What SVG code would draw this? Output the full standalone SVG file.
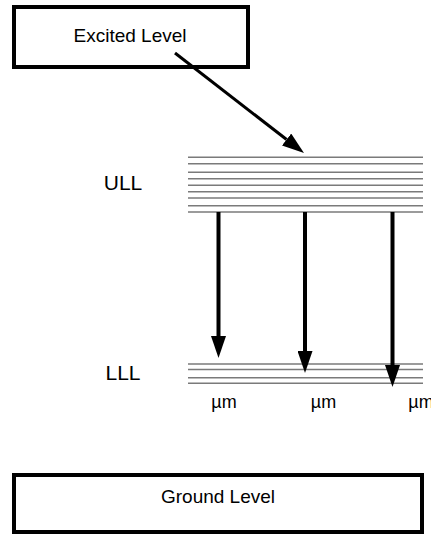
<svg xmlns="http://www.w3.org/2000/svg" width="431" height="535" viewBox="0 0 431 535">
  <style>
    .box { fill: #ffffff; stroke: #000000; stroke-width: 4; }
    .label { font-family: "Liberation Sans", Arial, sans-serif; fill: #000000; }
    .level { stroke: #7a7a7a; stroke-width: 1.6; }
    .arrow { stroke: #000000; fill: none; marker-end: url(#head); }
  </style>
  <defs>
    <marker id="head" viewBox="0 0 22 15" refX="0" refY="7.5" markerWidth="22" markerHeight="15" markerUnits="userSpaceOnUse" orient="auto">
      <path d="M0,0 L22,7.5 L0,15 Z" fill="#000000"/>
    </marker>
  </defs>

  <rect width="431" height="535" fill="#ffffff"/>

  <g id="excited-level">
    <rect class="box" x="14" y="7" width="234" height="60"/>
    <text class="label" x="130" y="42" font-size="19" text-anchor="middle">Excited Level</text>
  </g>

  <g id="ull">
    <g class="level">
      <line x1="188" y1="157.3" x2="423" y2="157.3"/>
      <line x1="188" y1="163.7" x2="423" y2="163.7"/>
      <line x1="188" y1="172.3" x2="423" y2="172.3"/>
      <line x1="188" y1="178.7" x2="423" y2="178.7"/>
      <line x1="188" y1="185.3" x2="423" y2="185.3"/>
      <line x1="188" y1="191.7" x2="423" y2="191.7"/>
      <line x1="188" y1="198" x2="423" y2="198"/>
      <line x1="188" y1="205.7" x2="423" y2="205.7"/>
      <line x1="188" y1="212" x2="423" y2="212"/>
    </g>
    <text class="label" x="123" y="190" font-size="21" text-anchor="middle">ULL</text>
  </g>

  <g id="lll">
    <g class="level">
      <line x1="188" y1="364" x2="423" y2="364"/>
      <line x1="188" y1="369.5" x2="423" y2="369.5"/>
      <line x1="188" y1="377.7" x2="423" y2="377.7"/>
      <line x1="188" y1="383.3" x2="423" y2="383.3"/>
    </g>
    <text class="label" x="123" y="380" font-size="21" text-anchor="middle">LLL</text>
  </g>

  <g id="wavelengths">
    <text class="label" x="224" y="408" font-size="18" text-anchor="middle">µm</text>
    <text class="label" x="323.5" y="408" font-size="18" text-anchor="middle">µm</text>
    <text class="label" x="421" y="408" font-size="18" text-anchor="middle">µm</text>
  </g>

  <g id="ground-level">
    <rect class="box" x="14" y="475" width="408" height="57"/>
    <text class="label" x="218" y="503" font-size="19" text-anchor="middle">Ground Level</text>
  </g>

  <g id="connectors">
    <line class="arrow" stroke-width="3" x1="175" y1="53" x2="286.6" y2="139.5"/>
    <line class="arrow" stroke-width="4" x1="218.5" y1="212" x2="218.5" y2="336"/>
    <line class="arrow" stroke-width="4" x1="305" y1="212" x2="305" y2="351"/>
    <line class="arrow" stroke-width="4" x1="392.5" y1="212" x2="392.5" y2="365"/>
  </g>
</svg>
